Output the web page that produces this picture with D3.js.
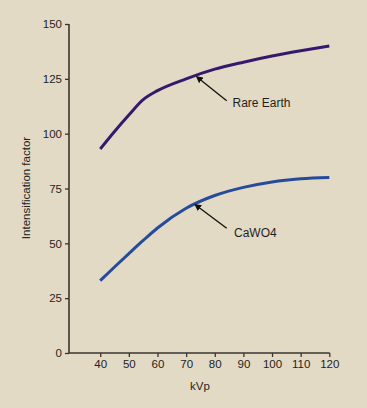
<!DOCTYPE html>
<html><head><meta charset="utf-8">
<script src="https://cdn.jsdelivr.net/npm/d3@7"></script>
<style>
html,body{margin:0;padding:0;background:#e3dac5;}
svg{display:block;font-family:"Liberation Sans",Arial,sans-serif;}
</style></head>
<body><svg id="c" width="367" height="408"></svg>
<script>
const kvp = [40, 45, 50, 55, 60, 70, 80, 90, 100, 110, 120];
const rareEarth = [93, 101, 108.5, 115.5, 119.6, 125, 129.4, 132.6, 135.4, 137.8, 140];
const cawo4 = [33, 39.2, 45.3, 51.3, 57, 66, 71.8, 75.5, 78, 79.4, 80];
const xTicks = [40, 50, 60, 70, 80, 90, 100, 110, 120];
const yTicks = [0, 25, 50, 75, 100, 125, 150];

const svg = d3.select("#c");
const x = d3.scaleLinear().domain([29.1, 120]).range([69, 329.3]);
const y = d3.scaleLinear().domain([0, 150]).range([353, 24]);
const ink = "#3a342e", txt = "#231f1c";

const line = d3.line().x((d,i)=>x(kvp[i])).y(d=>y(d)).curve(d3.curveMonotoneX);
svg.append("path").attr("d", line(rareEarth)).attr("fill","none").attr("stroke","#36196c").attr("stroke-width",3);
svg.append("path").attr("d", line(cawo4)).attr("fill","none").attr("stroke","#274b9b").attr("stroke-width",3);

const ya = svg.append("g").attr("transform","translate(69,0)")
  .call(d3.axisLeft(y).tickValues(yTicks).tickSize(4).tickPadding(3));
const xa = svg.append("g").attr("transform","translate(0,353)")
  .call(d3.axisBottom(x).tickValues(xTicks).tickSize(4).tickPadding(3));
[ya, xa].forEach(a=>{
  a.select(".domain").attr("stroke",ink).attr("stroke-width",1.6);
  a.selectAll(".tick line").attr("stroke",ink).attr("stroke-width",1.3);
  a.selectAll("text").attr("fill",txt).style("font-size","11.5px").style("font-family","'Liberation Sans',Arial,sans-serif");
});
xa.select(".domain").attr("d","M69,0H329.8");
ya.select(".domain").attr("d","M0,24V353");

svg.append("text").attr("x",200).attr("y",390).attr("text-anchor","middle")
  .attr("fill",txt).style("font-size","11.5px").text("kVp");
svg.append("text").attr("transform","translate(30,188) rotate(-90)").attr("text-anchor","middle")
  .attr("fill",txt).style("font-size","11.5px").text("Intensification factor");

svg.append("defs").append("marker").attr("id","ah").attr("viewBox","0 0 10 10")
  .attr("refX",1).attr("refY",5).attr("markerWidth",7).attr("markerHeight",7)
  .attr("markerUnits","userSpaceOnUse").attr("orient","auto-start-reverse")
  .append("path").attr("d","M0,0L10,5L0,10z").attr("fill","#111");

const notes = [
  {label:"Rare Earth", x1:226.7, y1:100.7, x2:200.7, y2:80, tx:232.5, ty:106.5},
  {label:"CaWO4", x1:226.7, y1:228.3, x2:199.3, y2:207.7, tx:234, ty:237}
];
notes.forEach(n=>{
  svg.append("line").attr("x1",n.x1).attr("y1",n.y1).attr("x2",n.x2).attr("y2",n.y2)
    .attr("stroke","#111").attr("stroke-width",1.3).attr("marker-end","url(#ah)");
  svg.append("text").attr("x",n.tx).attr("y",n.ty).attr("fill",txt).style("font-size","12px").text(n.label);
});
</script></body></html>
